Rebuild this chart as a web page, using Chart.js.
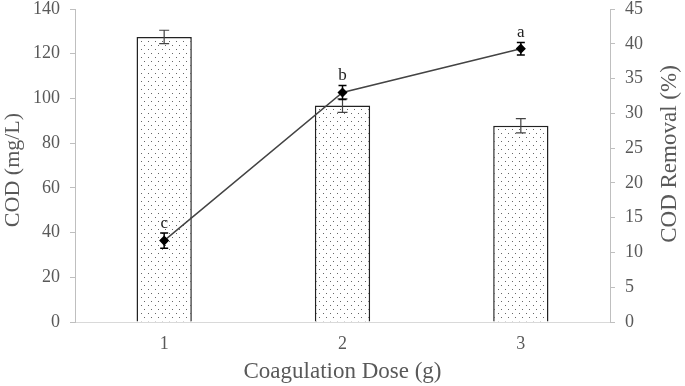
<!DOCTYPE html>
<html>
<head>
<meta charset="utf-8">
<script src="https://cdn.jsdelivr.net/npm/chart.js@4"></script>
<style>
  html, body { margin: 0; padding: 0; background: #fff; }
  #wrap { width: 685px; height: 386px; position: relative; }
</style>
</head>
<body>
<div id="wrap"><canvas id="codChart"></canvas></div>
<script>
// data
const doses = ['1', '2', '3'];
const codValues = [127.5, 96.8, 87.8];
const codErrors = [3.0, 3.0, 3.2];
const removalValues = [11.7, 33.0, 39.3];
const removalErrors = [1.1, 1.0, 0.9];
const removalLetters = ['c', 'b', 'a'];
const leftTicks = [0, 20, 40, 60, 80, 100, 120, 140];
const rightTicks = [0, 5, 10, 15, 20, 25, 30, 35, 40, 45];
const leftTitle = 'COD (mg/L)';
const rightTitle = 'COD Removal (%)';
const xTitle = 'Coagulation Dose (g)';

const textGray = '#595959';
const axisGray = '#bfbfbf';
const serif = "'Liberation Serif', 'Times New Roman', serif";

function dotPattern() {
    const c = document.createElement('canvas');
    c.width = 7; c.height = 8;
    const g = c.getContext('2d');
    g.fillStyle = '#fff';
    g.fillRect(0, 0, 7, 8);
    g.fillStyle = '#666';
    g.fillRect(1, 1, 1, 1);
    g.fillRect(4, 5, 1, 1);
    return g.createPattern(c, 'repeat');
}

function rotatedText(ctx, text, x, y) {
    ctx.save();
    ctx.translate(x, y);
    ctx.rotate(-Math.PI / 2);
    ctx.fillText(text, 0, 0);
    ctx.restore();
}

// error bars, significance letters and axis titles
const extras = {
    id: 'extras',
    afterDatasetsDraw(chart) {
        const ctx = chart.ctx;
        const yL = chart.scales.y;
        const yR = chart.scales.y1;
        const area = chart.chartArea;
        ctx.save();
        ctx.lineWidth = 1.2;

        chart.getDatasetMeta(0).data.forEach((bar, i) => {
            const top = yL.getPixelForValue(codValues[i] + codErrors[i]);
            const bot = yL.getPixelForValue(codValues[i] - codErrors[i]);
            ctx.strokeStyle = '#444';
            ctx.beginPath();
            ctx.moveTo(bar.x, top); ctx.lineTo(bar.x, bot);
            ctx.moveTo(bar.x - 5, top); ctx.lineTo(bar.x + 5, top);
            ctx.moveTo(bar.x - 5, bot); ctx.lineTo(bar.x + 5, bot);
            ctx.stroke();
        });

        chart.getDatasetMeta(1).data.forEach((pt, i) => {
            const top = yR.getPixelForValue(removalValues[i] + removalErrors[i]);
            const bot = yR.getPixelForValue(removalValues[i] - removalErrors[i]);
            ctx.strokeStyle = '#000';
            ctx.lineWidth = 1.5;
            ctx.beginPath();
            ctx.moveTo(pt.x, top); ctx.lineTo(pt.x, bot);
            ctx.moveTo(pt.x - 4, top); ctx.lineTo(pt.x + 4, top);
            ctx.moveTo(pt.x - 4, bot); ctx.lineTo(pt.x + 4, bot);
            ctx.stroke();
            ctx.fillStyle = '#222';
            ctx.font = '17px ' + serif;
            ctx.textAlign = 'center';
            ctx.textBaseline = 'bottom';
            ctx.fillText(removalLetters[i], pt.x, top - 1);
        });

        ctx.fillStyle = textGray;
        ctx.textAlign = 'center';
        ctx.textBaseline = 'middle';
        ctx.font = '22px ' + serif;
        rotatedText(ctx, leftTitle, 13, 170);
        ctx.font = '23px ' + serif;
        rotatedText(ctx, rightTitle, 670, 154);
        ctx.fillText(xTitle, (area.left + area.right) / 2, 372);
        ctx.restore();
    }
};

function noVerticalPad(scale) {
    scale.width = 75;
    scale.paddingTop = 0;
    scale.paddingBottom = 0;
}

const chart = new Chart(document.getElementById('codChart'), {
    data: {
        labels: doses,
        datasets: [
            {
                type: 'bar',
                label: 'COD',
                data: codValues,
                yAxisID: 'y',
                backgroundColor: dotPattern(),
                borderColor: '#222',
                borderWidth: 1.5,
                barPercentage: 0.31,
                categoryPercentage: 1,
                order: 2
            },
            {
                type: 'line',
                label: 'COD Removal',
                data: removalValues,
                yAxisID: 'y1',
                borderColor: '#444',
                borderWidth: 1.5,
                pointStyle: 'rectRot',
                pointRadius: 4,
                pointBackgroundColor: '#000',
                pointBorderColor: '#000',
                tension: 0,
                order: 1
            }
        ]
    },
    options: {
        responsive: true,
        maintainAspectRatio: false,
        animation: false,
        layout: { padding: { top: 9, left: 0, right: 0, bottom: 0 } },
        plugins: {
            legend: { display: false },
            tooltip: { enabled: false }
        },
        scales: {
            x: {
                grid: { display: false },
                border: { display: true, color: '#d9d9d9' },
                ticks: { color: textGray, font: { family: serif, size: 18 }, padding: 3 },
                afterFit(scale) {
                    scale.height = 64;
                    scale.paddingLeft = 0;
                    scale.paddingRight = 0;
                }
            },
            y: {
                position: 'left',
                min: 0, max: 140,
                afterBuildTicks(scale) { scale.ticks = leftTicks.map(v => ({ value: v })); },
                grid: { drawOnChartArea: false, color: axisGray, tickLength: 5 },
                border: { color: axisGray },
                ticks: { color: textGray, font: { family: serif, size: 18 }, padding: 10 },
                afterFit: noVerticalPad
            },
            y1: {
                position: 'right',
                min: 0, max: 45,
                afterBuildTicks(scale) { scale.ticks = rightTicks.map(v => ({ value: v })); },
                grid: { drawOnChartArea: false, color: axisGray, tickLength: 5 },
                border: { color: axisGray },
                ticks: { color: textGray, font: { family: serif, size: 18 }, padding: 10 },
                afterFit: noVerticalPad
            }
        }
    },
    plugins: [extras]
});
</script>
</body>
</html>
